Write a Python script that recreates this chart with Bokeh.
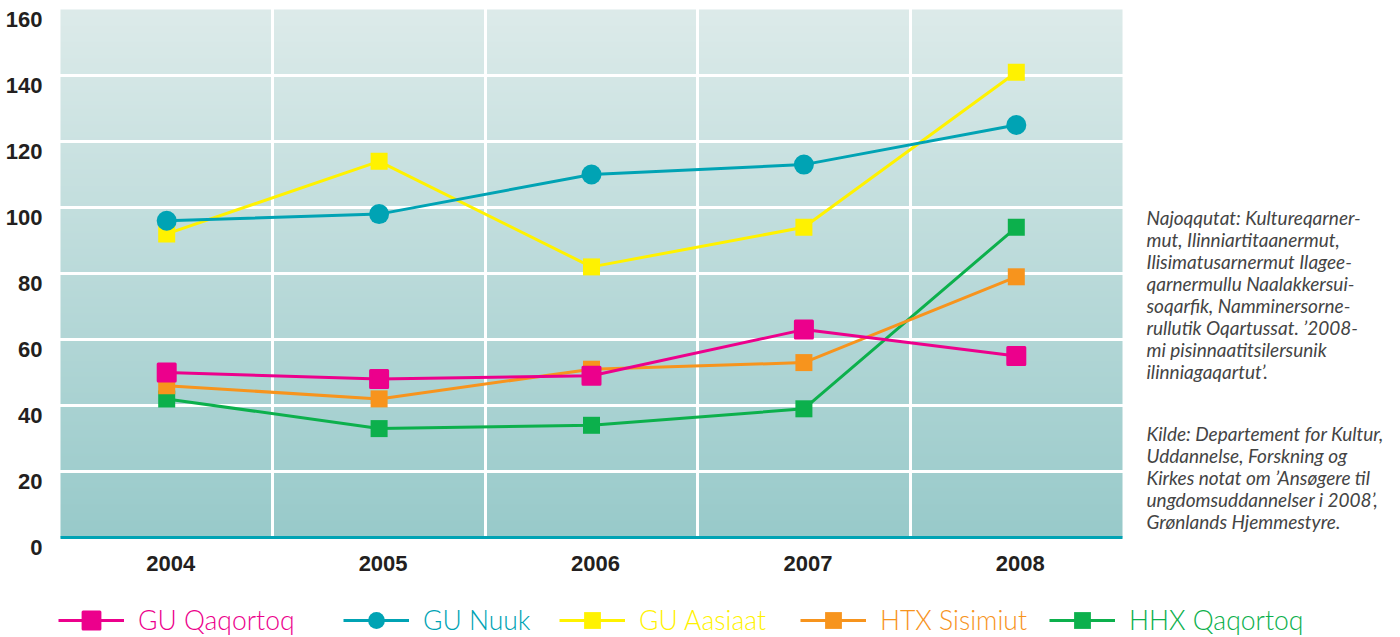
import numpy as np
from bokeh.plotting import figure
from bokeh.models import (ColumnDataSource, FixedTicker, Legend, LegendItem,
                          Label, Range1d)
from bokeh.core.properties import value
from bokeh.embed import file_html
from bokeh.resources import INLINE

# ---------------- data ----------------
years = ["2004", "2005", "2006", "2007", "2008"]
gu_qaqortoq = [50, 48, 49, 63, 55]
gu_nuuk = [96, 98, 110, 113, 125]
gu_aasiaat = [92, 114, 82, 94, 141]
htx_sisimiut = [46, 42, 51, 53, 79]
hhx_qaqortoq = [42, 33, 34, 39, 94]
y_ticks = [0, 20, 40, 60, 80, 100, 120, 140, 160]

series_names = ["GU Qaqortoq", "GU Nuuk", "GU Aasiaat", "HTX Sisimiut", "HHX Qaqortoq"]
series_values = [gu_qaqortoq, gu_nuuk, gu_aasiaat, htx_sisimiut, hhx_qaqortoq]
series_colors = ["#ec008c", "#00a3b4", "#fff200", "#f7941d", "#0cb04c"]
series_markers = ["square", "circle", "square", "square", "square"]

note_lines = ["Najoqqutat: Kultureqarner-",
              "mut, Ilinniartitaanermut,",
              "Ilisimatusarnermut Ilagee-",
              "qarnermullu Naalakkersui-",
              "soqarfik, Namminersorne-",
              "rullutik Oqartussat. \u20192008-",
              "mi pisinnaatitsilersunik",
              "ilinniagaqartut\u2019."]
source_lines = ["Kilde: Departement for Kultur,",
                "Uddannelse, Forskning og",
                "Kirkes notat om \u2019Ans\u00f8gere til",
                "ungdomsuddannelser i 2008\u2019,",
                "Gr\u00f8nlands Hjemmestyre."]

# ---------------- layout (pixels) ----------------
W, H = 1400, 636
PL, PR, PT, PB = 60, 1122, 9, 537        # plot-area edges on the canvas
n = len(years)
xs = list(range(n))
x0, x1 = -0.5, n - 0.5
y0, y1 = y_ticks[0], y_ticks[-1]
xpx = (PR - PL) / (x1 - x0)
ypx = (PB - PT) / (y1 - y0)

p = figure(width=W, height=H, output_backend="svg", toolbar_location=None,
           x_range=Range1d(x0 - PL / xpx, x1 + (W - PR) / xpx),
           y_range=Range1d(y0 - (H - PB) / ypx, y1 + PT / ypx),
           min_border_left=0, min_border_right=0, min_border_top=0,
           min_border_bottom=0)
p.xaxis.visible = False
p.yaxis.visible = False
p.outline_line_color = None
p.background_fill_color = "white"
p.border_fill_color = "white"

# gradient background of the plot area
rows = 400
t = np.linspace(0.0, 1.0, rows)
bottom_c = np.array([152, 202, 202])
top_c = np.array([221, 235, 234])
cols = (bottom_c[None, :] * (1 - t[:, None]) + top_c[None, :] * t[:, None]).astype(np.uint8)
img = np.empty((rows, 1), dtype=np.uint32)
view = img.view(dtype=np.uint8).reshape((rows, 1, 4))
view[:, 0, 0] = cols[:, 0]
view[:, 0, 1] = cols[:, 1]
view[:, 0, 2] = cols[:, 2]
view[:, 0, 3] = 255
p.image_rgba(image=[img], x=x0, y=y0, dw=x1 - x0, dh=y1 - y0, level="image")

# grid (limited to the plot area)
p.xgrid.ticker = FixedTicker(ticks=[i + 0.5 for i in range(n - 1)])
p.xgrid.bounds = (y0, y1)
p.ygrid.ticker = FixedTicker(ticks=y_ticks[1:-1])
p.ygrid.bounds = (x0, x1)
for g in (p.xgrid, p.ygrid):
    g.grid_line_color = "white"
    g.grid_line_width = 3
    g.grid_line_alpha = 1.0

# x axis line
p.segment(x0=[x0], y0=[y0], x1=[x1], y1=[y0], line_color="#00a3b4", line_width=3)

num_font = value("'Noto Sans Condensed', 'Liberation Sans', sans-serif")
# x tick labels
p.text(x=xs, y=[y0] * n, text=years, text_align="center", text_baseline="middle",
       x_offset=4, y_offset=26, text_font=num_font,
       text_font_style="bold", text_font_size="22px", text_color="#231f20")
# y tick labels (just below each gridline)
p.text(x=[x0] * len(y_ticks), y=y_ticks, text=[str(v) for v in y_ticks],
       text_align="right", text_baseline="middle", x_offset=-18, y_offset=10,
       text_font=num_font, text_font_style="bold",
       text_font_size="22px", text_color="#231f20")

# series (drawn back to front)
renderers = {}
for name, vals, col, mk in reversed(list(zip(series_names, series_values,
                                               series_colors, series_markers))):
    src = ColumnDataSource(dict(x=xs, y=vals))
    lr = p.line("x", "y", source=src, line_color=col, line_width=3)
    if mk == "circle":
        sr = p.scatter("x", "y", source=src, marker="circle", size=20,
                       fill_color=col, line_color=col, line_width=0)
    elif name == "GU Qaqortoq":
        sr = p.scatter("x", "y", source=src, marker="square", size=17,
                       fill_color=col, line_color=col, line_width=3,
                       line_join="round")
    else:
        sr = p.scatter("x", "y", source=src, marker="square", size=17,
                       fill_color=col, line_color=col, line_width=0)
    renderers[name] = (lr, sr)

# legends, one per series so each label takes its own colour
legend_x = [58, 343, 559, 800, 1049]
legend_cy, legend_h = 620, 42
for name, col, lx in zip(series_names, series_colors, legend_x):
    leg = Legend(items=[LegendItem(label=name, renderers=list(renderers[name]))],
                 location=(lx, H - (legend_cy + legend_h // 2)),
                 orientation="horizontal",
                 glyph_width=66, glyph_height=legend_h, label_standoff=14,
                 padding=0, margin=0, spacing=0,
                 border_line_color=None, background_fill_alpha=0,
                 label_text_color=col, label_text_font="Lato Light, Lato",
                 label_text_font_size="26.5px")
    p.add_layout(leg)

# notes on the right, one line each
line_step = 22
for lines, first_cy in ((note_lines, 217), (source_lines, 433)):
    for k, line in enumerate(lines):
        p.add_layout(Label(x=1146, y=H - (first_cy + k * line_step),
                           x_units="screen", y_units="screen", text=line,
                           text_align="left", text_baseline="middle",
                           text_font="Lato", text_font_style="italic",
                           text_font_size="19px", text_color="#444444"))

open("out.html", "w").write(file_html(p, INLINE))
